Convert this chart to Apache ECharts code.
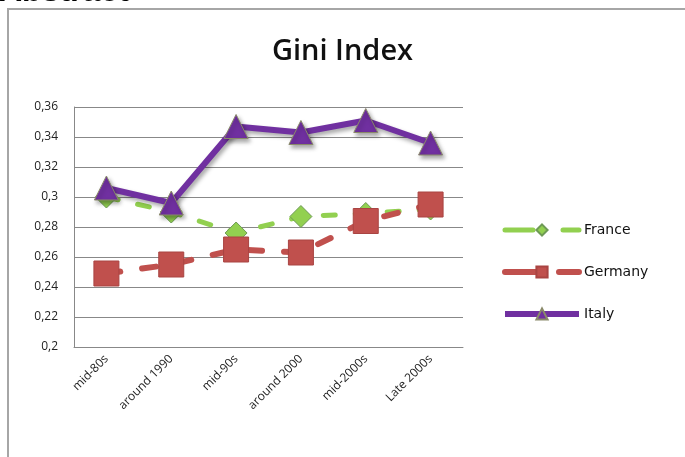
<!DOCTYPE html>
<html lang="en">
<head>
    <meta charset="UTF-8">
    <title>Gini Index</title>
    <style>
        html, body { margin: 0; padding: 0; background: #fff; }
        #main { width: 685px; height: 457px; }
    </style>
</head>
<body>
    <div id="main"></div>
    <script src="https://cdn.jsdelivr.net/npm/echarts@6/dist/echarts.min.js"></script>
    <script>
        // data
        var categories = ['mid-80s', 'around 1990', 'mid-90s', 'around 2000', 'mid-2000s', 'Late 2000s'];
        var france = [0.300, 0.290, 0.276, 0.287, 0.289, 0.292];
        var germany = [0.249, 0.255, 0.265, 0.263, 0.284, 0.295];
        var italy = [0.306, 0.296, 0.347, 0.343, 0.351, 0.336];
        var yTicks = [0.2, 0.22, 0.24, 0.26, 0.28, 0.3, 0.32, 0.34, 0.36];

        var chart = echarts.init(document.getElementById('main'));

        var option = {
            animation: false,
            backgroundColor: '#fff',
            textStyle: { fontFamily: 'Open Sans, DejaVu Sans, sans-serif' },
            title: {
                text: 'Gini Index',
                left: 'center',
                top: 32,
                textStyle: { fontSize: 29, fontWeight: 600, color: '#111', fontFamily: 'Open Sans' }
            },
            graphic: [
                {
                    type: 'text', left: -1, top: -24,
                    style: { text: 'Abstract', font: 'bold 32px Liberation Sans', fill: '#000' }
                },
                {
                    type: 'polyline', silent: true,
                    shape: { points: [[8, 457], [8, 9], [685, 9]] },
                    style: { stroke: '#a6a6a6', lineWidth: 2, fill: 'none' }
                }
            ],
            legend: {
                orient: 'vertical',
                left: 497,
                top: 218,
                itemWidth: 74,
                itemHeight: 14,
                itemGap: 28,
                textStyle: { fontSize: 14, color: '#111', fontFamily: 'DejaVu Sans' },
                data: [
                    { name: 'France', lineStyle: { width: 5, type: [28, 30], cap: 'round' } },
                    { name: 'Germany', lineStyle: { width: 6, type: [40, 14], cap: 'round' } },
                    { name: 'Italy', lineStyle: { width: 6, shadowBlur: 0, shadowOffsetX: 0, shadowOffsetY: 0 } }
                ]
            },
            grid: { left: 74, right: 222, top: 107, bottom: 110 },
            xAxis: {
                type: 'category',
                data: categories,
                boundaryGap: true,
                axisLine: { lineStyle: { color: '#888', width: 1 } },
                axisTick: { show: false },
                axisLabel: { rotate: 45, fontSize: 12, color: '#222', margin: 10 }
            },
            yAxis: {
                type: 'value',
                min: 0.2,
                max: 0.36,
                interval: 0.02,
                axisLine: { show: true, lineStyle: { color: '#888', width: 1 } },
                axisTick: { show: false },
                splitLine: { lineStyle: { color: '#888', width: 1 } },
                axisLabel: {
                    fontSize: 12, color: '#222', margin: 16,
                    formatter: function (v) {
                        var t = yTicks.find(function (k) { return Math.abs(k - v) < 1e-6; });
                        return String(t !== undefined ? t : v).replace('.', ',');
                    }
                }
            },
            series: [
                {
                    name: 'France',
                    type: 'line',
                    data: france,
                    z: 2,
                    symbol: 'diamond',
                    symbolSize: 22,
                    lineStyle: { color: '#92d050', width: 5, type: [12, 20], cap: 'round' },
                    itemStyle: { color: '#92d050', borderColor: '#6e9a56', borderWidth: 1 }
                },
                {
                    name: 'Germany',
                    type: 'line',
                    data: germany,
                    z: 3,
                    symbol: 'rect',
                    symbolSize: 25,
                    lineStyle: { color: '#c0504d', width: 6, type: [14, 22], cap: 'round' },
                    itemStyle: { color: '#c0504d', borderColor: '#a94442', borderWidth: 1 }
                },
                {
                    name: 'Italy',
                    type: 'line',
                    data: italy,
                    z: 4,
                    symbol: 'triangle',
                    symbolSize: 24,
                    lineStyle: {
                        color: '#7030a0', width: 6,
                        shadowColor: 'rgba(0,0,0,0.35)', shadowBlur: 4, shadowOffsetX: 2, shadowOffsetY: 3
                    },
                    itemStyle: {
                        color: '#7030a0', borderColor: '#8a8a6a', borderWidth: 1,
                        shadowColor: 'rgba(0,0,0,0.35)', shadowBlur: 4, shadowOffsetX: 2, shadowOffsetY: 3
                    }
                }
            ]
        };

        chart.setOption(option);
    </script>
</body>
</html>
